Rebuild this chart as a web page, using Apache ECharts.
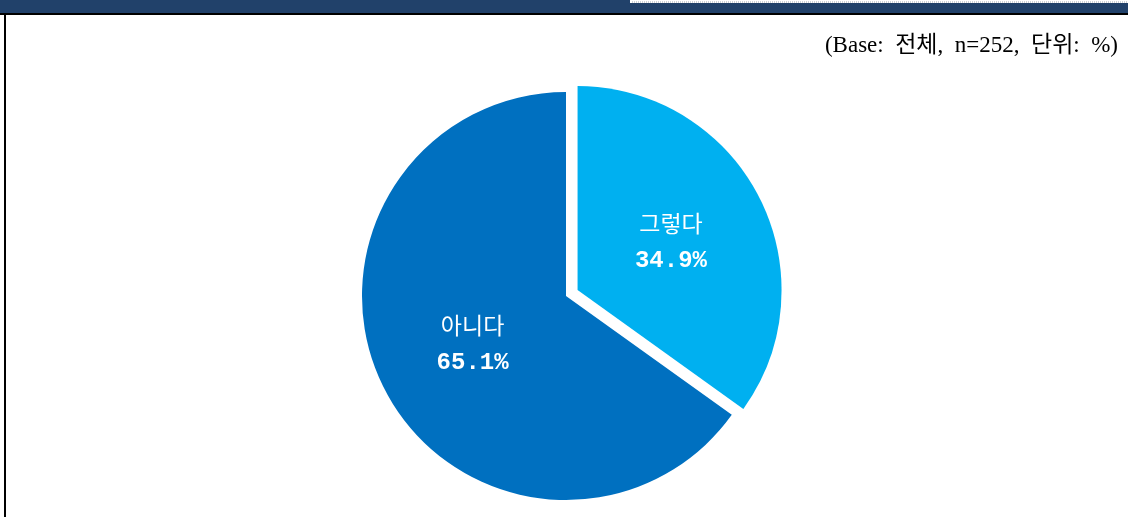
<!DOCTYPE html>
<html>
<head>
<meta charset="utf-8">
<script src="https://cdn.jsdelivr.net/npm/echarts@6/dist/echarts.min.js"></script>
<style>
    html, body { margin: 0; padding: 0; background: #fff; }
    #chart { width: 1128px; height: 517px; }
</style>
</head>
<body>
<div id="chart"></div>
<script>
// data
var categories = ['그렇다', '아니다'];
var values = [34.9, 65.1];
var colors = ['#00B0F0', '#0070C0'];
var note = '(Base:  전체,  n=252,  단위:  %)';

var chart = echarts.init(document.getElementById('chart'), null, { renderer: 'canvas' });

var pieData = [];
for (var i = 0; i < categories.length; i++) {
    pieData.push({
        name: categories[i],
        value: values[i],
        selected: i === 0,
        itemStyle: { color: colors[i] }
    });
}

var option = {
    animation: false,
    backgroundColor: '#fff',
    graphic: [
        // header bar
        { type: 'rect', left: 0, top: 0, shape: { width: 1128, height: 13 }, style: { fill: '#21416A' } },
        { type: 'rect', left: 630, top: 0, shape: { width: 498, height: 3 }, style: { fill: '#fff' } },
        { type: 'line', shape: { x1: 632, y1: 2, x2: 1128, y2: 2 }, style: { stroke: '#9aa4b0', lineWidth: 1, lineDash: [1, 1] } },
        { type: 'rect', left: 0, top: 13, shape: { width: 1128, height: 2 }, style: { fill: '#000' } },
        // left frame line
        { type: 'rect', left: 4, top: 14, shape: { width: 2, height: 503 }, style: { fill: '#000' } }
    ],
    title: {
        text: note,
        right: 5,
        top: 29,
        textStyle: {
            fontFamily: 'Liberation Serif, Noto Sans CJK KR',
            fontSize: 23,
            fontWeight: 'normal',
            letterSpacing: 0.5,
            color: '#000'
        }
    },
    series: [
        {
            type: 'pie',
            center: [566, 296],
            radius: [0, 204],
            startAngle: 90,
            clockwise: true,
            selectedMode: 'single',
            selectedOffset: 13,
            label: {
                show: true,
                position: 'inside',
                formatter: function (p) { return '{n|' + p.name + '}\n{v|' + p.value.toFixed(1) + '%}'; },
                color: '#fff',
                rich: {
                    n: {
                        color: '#fff',
                        fontFamily: 'Noto Sans CJK KR',
                        fontSize: 23,
                        letterSpacing: 3,
                        lineHeight: 37
                    },
                    v: {
                        color: '#fff',
                        fontFamily: 'Liberation Mono',
                        fontWeight: 'bold',
                        fontSize: 24,
                        lineHeight: 37
                    }
                }
            },
            labelLine: { show: false },
            itemStyle: { borderWidth: 0 },
            emphasis: { disabled: true },
            data: pieData
        }
    ]
};

chart.setOption(option);
window.addEventListener('resize', chart.resize);
</script>
</body>
</html>
